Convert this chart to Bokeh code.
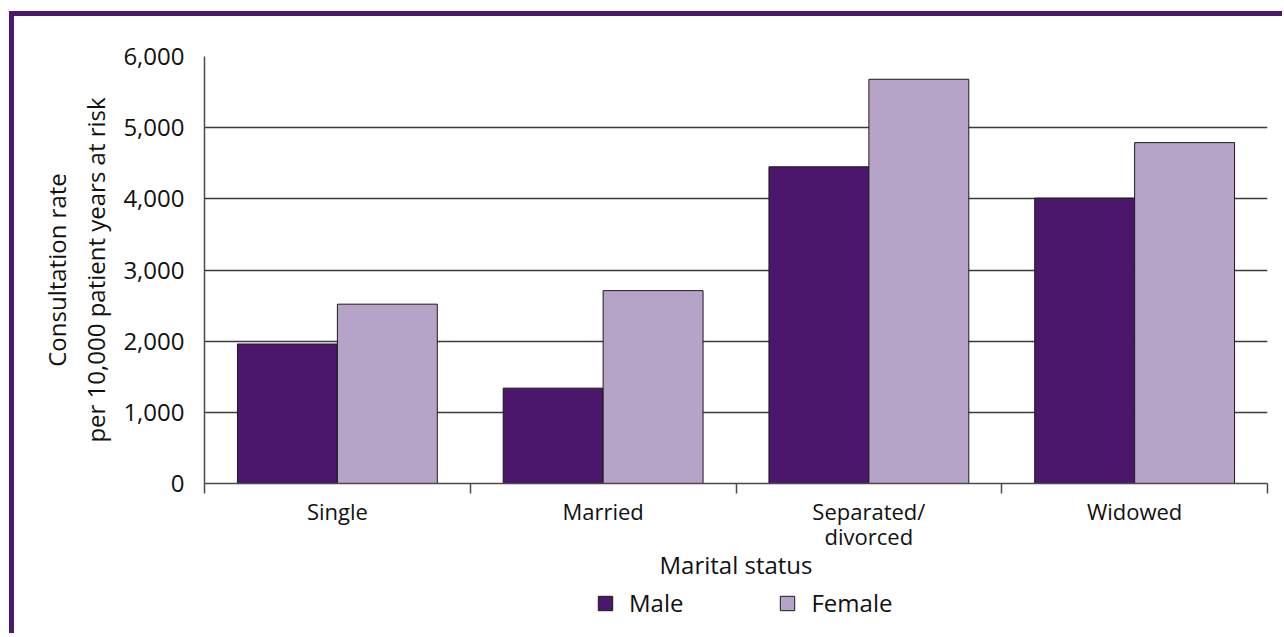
from bokeh.plotting import figure
from bokeh.layouts import column
from bokeh.models import (Range1d, LinearAxis, FixedTicker,
                          NumeralTickFormatter, ColumnDataSource, Legend, LegendItem)
from bokeh.transform import dodge
from bokeh.embed import file_html
from bokeh.resources import INLINE

categories = ["Single", "Married", "Separated/\ndivorced", "Widowed"]
male = [1960, 1340, 4450, 4010]
female = [2520, 2710, 5680, 4790]
y_ticks = [0, 1000, 2000, 3000, 4000, 5000, 6000]
series_names = ["Male", "Female"]

MALE_C = "#4B176D"
FEMALE_C = "#B6A3C8"
FRAME_C = "#4B186E"
FONT = "Open Sans"

n = len(categories)
centers = [i + 0.5 for i in range(n)]
edges = list(range(n + 1))
src = ColumnDataSource(dict(x=centers, male=male, female=female))

p = figure(width=1268, height=569, output_backend="svg", toolbar_location=None,
           x_range=Range1d(0, n), y_range=Range1d(0, 6000), x_axis_location=None,
           min_border_left=190, min_border_right=15, min_border_top=40, min_border_bottom=102)
p.outline_line_color = None
p.xgrid.grid_line_color = None
p.ygrid.grid_line_color = "#3a3a3a"
p.ygrid.grid_line_width = 1.3
p.ygrid.ticker = FixedTicker(ticks=y_ticks)

yax = p.yaxis[0]
yax.ticker = FixedTicker(ticks=y_ticks)
yax.formatter = NumeralTickFormatter(format="0,0")
yax.major_tick_out = 0
yax.major_tick_in = 0
yax.minor_tick_out = 0
yax.minor_tick_in = 0
yax.axis_line_color = "#4a4a4a"
yax.axis_line_width = 1.5
yax.major_label_standoff = 20
yax.major_label_text_font = FONT
yax.major_label_text_font_size = "24px"
yax.major_label_text_color = "#111111"
yax.axis_label = "Consultation rate\nper 10,000 patient years at risk"
yax.axis_label_text_font = FONT
yax.axis_label_text_font_size = "24px"
yax.axis_label_text_font_style = "normal"
yax.axis_label_text_color = "#111111"
yax.axis_label_standoff = 8

tick_axis = LinearAxis(ticker=FixedTicker(ticks=edges),
                       major_label_overrides={e: "" for e in edges},
                       major_label_text_font_size="1px", major_label_standoff=0,
                       major_tick_out=10, major_tick_in=0, minor_tick_out=0, minor_tick_in=0,
                       major_tick_line_color="#4a4a4a", major_tick_line_width=1.5,
                       axis_line_color="#4a4a4a", axis_line_width=1.5)
p.add_layout(tick_axis, "below")

cat_axis = LinearAxis(ticker=FixedTicker(ticks=centers),
                      major_label_overrides={c: lab for c, lab in zip(centers, categories)},
                      major_tick_line_color=None, minor_tick_line_color=None, axis_line_color=None,
                      major_label_standoff=-4,
                      major_label_text_font=FONT, major_label_text_font_size="22px",
                      major_label_text_line_height=0.85,
                      major_label_text_color="#111111",
                      axis_label="Marital status", axis_label_text_font=FONT,
                      axis_label_text_font_size="24px", axis_label_text_font_style="normal",
                      axis_label_text_color="#111111", axis_label_standoff=-6)
p.add_layout(cat_axis, "below")

p.vbar(x=dodge("x", -0.188), top="male", width=0.376, source=src,
       fill_color=MALE_C, line_color="#1a1a1a", line_width=1)
p.vbar(x=dodge("x", 0.188), top="female", width=0.376, source=src,
       fill_color=FEMALE_C, line_color="#1a1a1a", line_width=1)

# legend strip below the chart (its frame is aligned with the chart's frame by the column)
p2 = figure(width=1268, height=48, output_backend="svg", toolbar_location=None,
            x_range=Range1d(0, 1), y_range=Range1d(0, 1),
            x_axis_location=None, y_axis_location=None, min_border=0)
p2.outline_line_color = None
p2.xgrid.grid_line_color = None
p2.ygrid.grid_line_color = None
# legend-key proxies, placed outside the visible range
proxy_src = ColumnDataSource(dict(x=[-5], top=[-5]))
lm = p2.vbar(x="x", top="top", width=0.1, source=proxy_src, fill_color=MALE_C, line_color="#1a1a1a")
lf = p2.vbar(x="x", top="top", width=0.1, source=proxy_src, fill_color=FEMALE_C, line_color="#1a1a1a")
legend = Legend(items=[LegendItem(label=series_names[0], renderers=[lm]),
                       LegendItem(label=series_names[1], renderers=[lf])],
                orientation="horizontal", location=(392, 14),
                glyph_width=18, glyph_height=18, label_standoff=15, spacing=95,
                padding=0, margin=0, border_line_color=None, background_fill_alpha=0,
                label_text_font=FONT, label_text_font_size="24px", label_text_color="#111111",
                label_height=18)
p2.add_layout(legend, "center")

layout = column(p, p2, spacing=0,
                styles={"margin-top": "11px", "margin-left": "9px",
                        "border-top": "5px solid " + FRAME_C,
                        "border-left": "5px solid " + FRAME_C})

open("out.html", "w").write(file_html(layout, INLINE))
